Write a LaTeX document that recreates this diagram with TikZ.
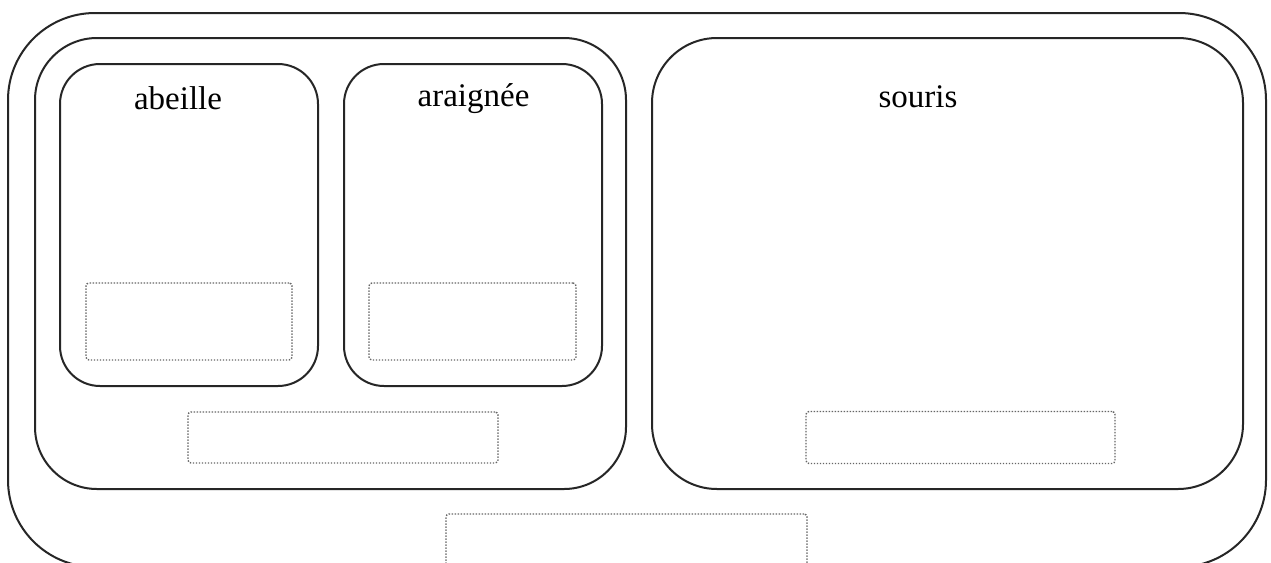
\documentclass[tikz,border=0pt]{standalone}
\usepackage{fontspec}
\setmainfont{Liberation Serif}
\begin{document}
\begin{tikzpicture}[x=1pt,y=-1pt,
  frame/.style={draw=black!85, line width=2pt, rectangle, inner sep=0pt, outer sep=0pt},
  slot/.style={draw=black!60, dash pattern=on 1.4pt off 1.6pt, line width=1.4pt, rectangle, rounded corners=3pt, inner sep=0pt, outer sep=0pt},
  title/.style={anchor=base, inner sep=0pt, font=\fontsize{33}{40}\selectfont}]
\useasboundingbox (0,0) rectangle (1271,562);
\clip (0,0) rectangle (1271,562);
\fill[white] (0,0) rectangle (1271,562);

% outermost enclosure
\node[frame, rounded corners=87pt, minimum width=1258pt, minimum height=554pt] (all) at (637,290) {};

% left group and right group
\node[frame, rounded corners=62pt, minimum width=591pt, minimum height=451pt] (left) at (330.5,263.5) {};
\node[frame, rounded corners=65pt, minimum width=591pt, minimum height=451pt] (souris) at (947.5,263.5) {};

% two inner boxes of the left group
\node[frame, rounded corners=40pt, minimum width=258pt, minimum height=322pt] (abeille) at (189,225) {};
\node[frame, rounded corners=40pt, minimum width=258pt, minimum height=322pt] (araignee) at (473,225) {};

% titles
\node[title] (tabeille) at (178,109) {abeille};
\node[title] (taraignee) at (473.5,106) {araignée};
\node[title] (tsouris) at (918,107) {souris};

% dotted placeholders
\node[slot, minimum width=206pt, minimum height=77pt] (sabeille) at (189,321.5) {};
\node[slot, minimum width=207pt, minimum height=77pt] (saraignee) at (472.5,321.5) {};
\node[slot, minimum width=310pt, minimum height=51pt] (sleft) at (343,437.5) {};
\node[slot, minimum width=309pt, minimum height=52pt] (ssouris) at (960.5,437.5) {};
\node[slot, minimum width=361pt, minimum height=60pt] (sall) at (626.5,544) {};
\end{tikzpicture}
\end{document}
